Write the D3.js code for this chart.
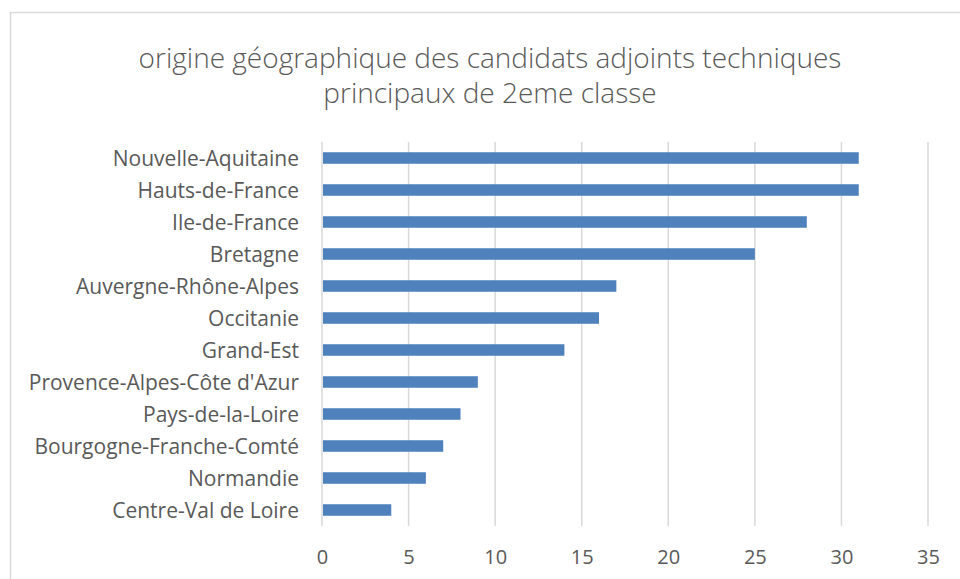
<!DOCTYPE html>
<html>
<head>
<meta charset="utf-8">
<script src="https://cdn.jsdelivr.net/npm/d3@7"></script>
<style>
  body { margin: 0; background: #fff; }
  text { font-family: "Open Sans", sans-serif; fill: #595959; }
</style>
</head>
<body>
<svg id="chart" width="960" height="579"></svg>
<script>
// values, top bar first
const regions = ['Nouvelle-Aquitaine', 'Hauts-de-France', 'Ile-de-France', 'Bretagne',
    'Auvergne-Rhône-Alpes', 'Occitanie', 'Grand-Est', "Provence-Alpes-Côte d'Azur",
    'Pays-de-la-Loire', 'Bourgogne-Franche-Comté', 'Normandie', 'Centre-Val de Loire'];
const candidates = [31, 31, 28, 25, 17, 16, 14, 9, 8, 7, 6, 4];
const xTicks = [0, 5, 10, 15, 20, 25, 30, 35];
const titleLines = ['origine géographique des candidats adjoints techniques', 'principaux de 2eme classe'];

const data = regions.map((r, i) => ({region: r, value: candidates[i]}));

const svg = d3.select('#chart');

// chart area frame (runs off the right and bottom of the picture)
svg.append('rect')
    .attr('x', 10.5).attr('y', 12.5)
    .attr('width', 980).attr('height', 600)
    .attr('fill', 'none')
    .attr('stroke', '#d9d9d9')
    .attr('stroke-width', 1.5);

let margin = {top: 142, left: 322};
let width = 928 - margin.left;
let height = 526 - margin.top;

let chart = svg.append('g')
    .attr('transform', `translate(${margin.left}, ${margin.top})`);

let x = d3.scaleLinear().domain([0, 35]).range([0, width]);
let y = d3.scaleBand().domain(regions).range([0, height]).paddingInner(0.64).paddingOuter(0.32);

// gridlines
chart.append('g')
    .selectAll('line')
    .data(xTicks)
    .enter()
        .append('line')
        .attr('x1', d => x(d)).attr('x2', d => x(d))
        .attr('y1', 0).attr('y2', height)
        .attr('stroke', '#d9d9d9')
        .attr('stroke-width', 1.5);

chart.append('g')
    .selectAll('rect')
    .data(data)
    .enter()
        .append('rect')
        .attr('x', x(0) + 1)
        .attr('y', d => y(d.region))
        .attr('width', d => x(d.value) - x(0) - 1)
        .attr('height', y.bandwidth())
        .attr('fill', '#4f81bd');

// x axis labels
let xAxis = d3.axisBottom(x).tickValues(xTicks).tickSize(0).tickPadding(24);
let xg = chart.append('g')
    .attr('transform', `translate(0, ${height})`)
    .call(xAxis);
xg.select('.domain').remove();
xg.selectAll('text').style('font-size', '20px').style('fill', '#595959').attr('font-family', null);

// category labels
let yAxis = d3.axisLeft(y).tickSize(0).tickPadding(23);
let yg = chart.append('g').call(yAxis);
yg.select('.domain').remove();
yg.selectAll('text').attr('dy', '0.38em').style('font-size', '21px').style('fill', '#595959').attr('font-family', null);

// title
svg.append('g')
    .selectAll('text')
    .data(titleLines)
    .enter()
        .append('text')
        .attr('x', 490)
        .attr('y', (d, i) => 68 + i * 35)
        .attr('text-anchor', 'middle')
        .style('font-size', '28px')
        .style('font-weight', 300)
        .text(d => d);
</script>
</body>
</html>
